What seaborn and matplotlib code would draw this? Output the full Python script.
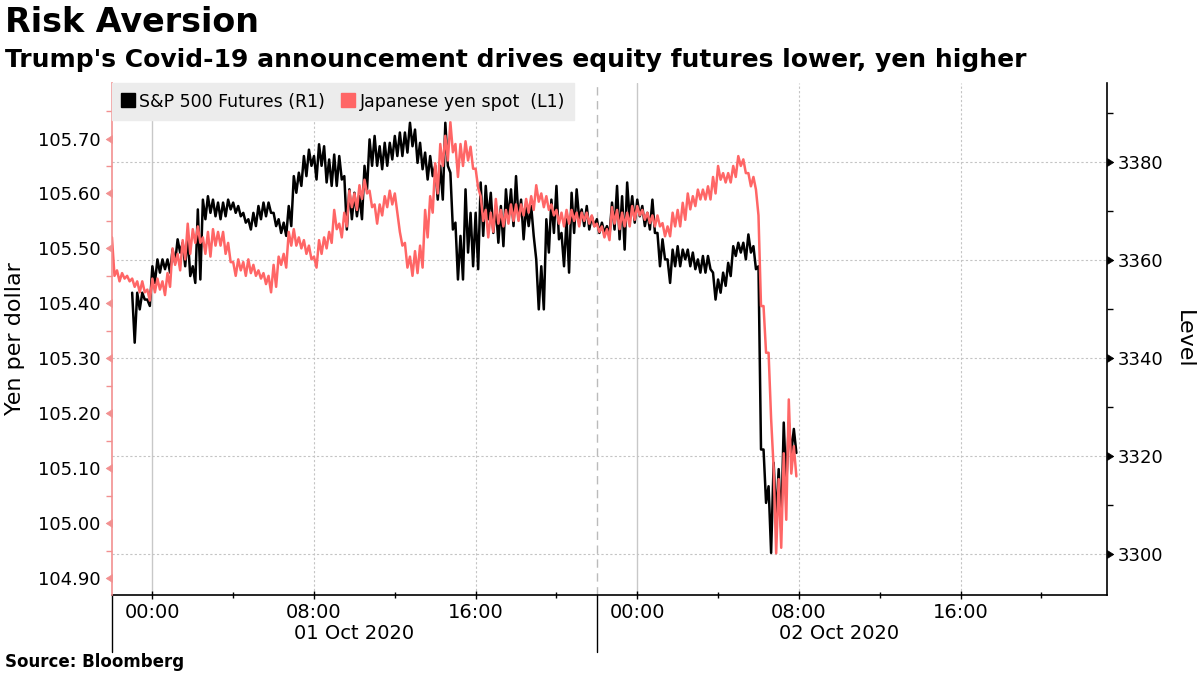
import matplotlib
matplotlib.use("Agg")
import matplotlib.pyplot as plt
import matplotlib.dates as mdates
from matplotlib.lines import Line2D
from matplotlib.path import Path
from matplotlib.ticker import FixedLocator, FormatStrFormatter
import pandas as pd
import seaborn as sns

# Yen spot: 15-minute bins from 30 Sep 22:00, high / low (one row = one hour)
yen_start = "2020-09-30 22:00"
yen_high = [
    105.52, 105.46, 105.455, 105.45,
    105.445, 105.44, 105.44, 105.425,
    105.445, 105.445, 105.44, 105.455,
    105.50, 105.49, 105.515, 105.545,
    105.535, 105.54, 105.52, 105.53,
    105.535, 105.53, 105.53, 105.51,
    105.475, 105.48, 105.475, 105.48,
    105.47, 105.46, 105.455, 105.45,
    105.47, 105.485, 105.49, 105.53,
    105.535, 105.52, 105.515, 105.505,
    105.485, 105.515, 105.52, 105.53,
    105.57, 105.545, 105.565, 105.605,
    105.60, 105.615, 105.625, 105.605,
    105.58, 105.58, 105.595, 105.605,
    105.60, 105.53, 105.51, 105.485,
    105.495, 105.505, 105.57, 105.595,
    105.655, 105.69, 105.705, 105.73,
    105.69, 105.69, 105.695, 105.685,
    105.645, 105.595, 105.57, 105.565,
    105.59, 105.57, 105.57, 105.58,
    105.58, 105.58, 105.59, 105.595,
    105.615, 105.60, 105.595, 105.58,
    105.57, 105.565, 105.57, 105.57,
    105.565, 105.565, 105.565, 105.56,
    105.545, 105.54, 105.535, 105.575,
    105.57, 105.565, 105.565, 105.577,
    105.577, 105.57, 105.565, 105.56,
    105.56, 105.546, 105.54, 105.565,
    105.57, 105.583, 105.60, 105.595,
    105.607, 105.607, 105.613, 105.63,
    105.65, 105.637, 105.637, 105.65,
    105.668, 105.662, 105.637, 105.63,
    105.56, 105.395, 105.31, 105.10,
    105.08, 105.127, 105.225, 105.14,
]
yen_low = [
    105.45, 105.44, 105.445, 105.44,
    105.43, 105.42, 105.42, 105.405,
    105.42, 105.425, 105.415, 105.43,
    105.47, 105.46, 105.48, 105.49,
    105.51, 105.51, 105.49, 105.485,
    105.505, 105.505, 105.49, 105.475,
    105.45, 105.46, 105.45, 105.455,
    105.45, 105.445, 105.435, 105.42,
    105.43, 105.47, 105.465, 105.505,
    105.505, 105.50, 105.49, 105.48,
    105.465, 105.49, 105.50, 105.51,
    105.535, 105.52, 105.54, 105.575,
    105.57, 105.59, 105.60, 105.575,
    105.545, 105.56, 105.575, 105.58,
    105.565, 105.505, 105.465, 105.45,
    105.455, 105.465, 105.52, 105.565,
    105.60, 105.65, 105.66, 105.675,
    105.63, 105.65, 105.66, 105.645,
    105.61, 105.55, 105.52, 105.53,
    105.545, 105.54, 105.545, 105.55,
    105.55, 105.56, 105.565, 105.57,
    105.585, 105.575, 105.57, 105.56,
    105.545, 105.54, 105.545, 105.55,
    105.54, 105.55, 105.545, 105.54,
    105.53, 105.52, 105.515, 105.545,
    105.535, 105.54, 105.54, 105.552,
    105.56, 105.552, 105.546, 105.54,
    105.54, 105.522, 105.522, 105.54,
    105.54, 105.552, 105.571, 105.577,
    105.589, 105.589, 105.589, 105.60,
    105.625, 105.62, 105.62, 105.63,
    105.65, 105.637, 105.613, 105.607,
    105.395, 105.31, 105.19, 104.945,
    104.955, 105.006, 105.09, 105.085,
]

# S&P 500 futures: 15-minute bins from 30 Sep 23:00, high / low
spx_start = "2020-09-30 23:00"
spx_high = [
    3353.4, 3353.4, 3353.4, 3352.0,
    3358.8, 3360.2, 3360.2, 3360.2,
    3362.2, 3364.3, 3363.6, 3365.0,
    3358.8, 3370.4, 3372.4, 3373.1,
    3372.4, 3371.8, 3371.8, 3372.4,
    3371.8, 3371.1, 3369.7, 3368.4,
    3369.7, 3371.1, 3371.8, 3371.8,
    3369.7, 3368.4, 3367.7, 3371.1,
    3377.2, 3377.9, 3381.3, 3382.6,
    3381.3, 3383.7, 3383.3, 3380.6,
    3381.6, 3381.3, 3377.2, 3374.5,
    3373.8, 3373.1, 3379.3, 3384.7,
    3385.4, 3383.3, 3384.0, 3384.0,
    3385.4, 3386.1, 3386.1, 3388.1,
    3386.7, 3384.0, 3382.0, 3381.3,
    3379.3, 3379.3, 3388.1, 3377.9,
    3367.7, 3365.0, 3374.5, 3369.7,
    3369.7, 3375.9, 3375.2, 3373.8,
    3371.1, 3371.1, 3374.5, 3374.5,
    3377.2, 3372.4, 3371.1, 3371.1,
    3360.2, 3358.8, 3368.4, 3372.4,
    3375.2, 3365.6, 3368.4, 3373.8,
    3374.5, 3370.4, 3371.1, 3369.0,
    3368.4, 3367.7, 3367.0, 3371.8,
    3375.2, 3373.1, 3375.9, 3373.1,
    3372.4, 3371.1, 3369.7, 3372.4,
    3365.6, 3364.3, 3360.2, 3362.2,
    3362.9, 3362.2, 3362.2, 3361.6,
    3360.2, 3360.9, 3360.9, 3357.5,
    3356.1, 3357.5, 3359.5, 3362.9,
    3363.6, 3363.6, 3365.3, 3362.9,
    3358.8, 3321.4, 3313.9, 3318.7,
    3317.4, 3326.9, 3326.9, 3325.6,
]
spx_low = [
    3343.2, 3350.0, 3352.0, 3350.7,
    3355.4, 3357.5, 3358.2, 3357.5,
    3359.5, 3361.6, 3358.8, 3356.8,
    3355.4, 3356.1, 3368.4, 3369.7,
    3369.0, 3368.4, 3369.0, 3370.4,
    3369.7, 3369.0, 3367.7, 3366.3,
    3367.0, 3368.4, 3369.0, 3369.7,
    3367.0, 3365.6, 3365.0, 3367.0,
    3373.8, 3375.2, 3377.2, 3379.3,
    3376.5, 3379.3, 3375.9, 3375.2,
    3375.2, 3376.5, 3366.3, 3368.4,
    3369.0, 3368.4, 3374.5, 3379.3,
    3379.3, 3378.6, 3379.3, 3380.6,
    3381.3, 3381.3, 3382.0, 3383.3,
    3379.9, 3378.6, 3376.5, 3377.2,
    3372.4, 3372.4, 3379.3, 3366.3,
    3356.1, 3356.1, 3361.6, 3358.8,
    3358.2, 3365.0, 3368.4, 3365.6,
    3363.6, 3362.9, 3368.4, 3367.0,
    3368.4, 3364.3, 3367.0, 3365.0,
    3350.0, 3350.0, 3361.6, 3365.6,
    3364.3, 3358.8, 3357.5, 3365.6,
    3368.4, 3367.0, 3366.3, 3367.0,
    3365.6, 3365.6, 3365.0, 3366.3,
    3364.3, 3362.2, 3368.4, 3367.7,
    3369.0, 3367.0, 3366.3, 3365.6,
    3358.8, 3360.2, 3355.4, 3358.8,
    3358.8, 3360.2, 3358.8, 3358.2,
    3357.5, 3357.5, 3358.2, 3352.0,
    3353.4, 3354.8, 3356.8, 3360.9,
    3361.6, 3360.2, 3361.6, 3358.2,
    3321.4, 3310.5, 3300.3, 3307.1,
    3305.1, 3313.9, 3320.7, 3320.7,
]

yen_ticks = [104.90, 105.00, 105.10, 105.20, 105.30, 105.40, 105.50, 105.60, 105.70]
yen_minor = [104.95, 105.05, 105.15, 105.25, 105.35, 105.45, 105.55, 105.65, 105.75]
spx_ticks = [3300, 3320, 3340, 3360, 3380]
spx_minor = [3310, 3330, 3350, 3370, 3390]
day_labels = ["01 Oct 2020", "02 Oct 2020"]
day_label_times = ["2020-10-01 10:00", "2020-10-02 10:00"]
session_breaks = ["2020-09-30 22:00", "2020-10-01 22:00"]

PINK = "#FF6666"
PINK_AXIS = "#F29090"


def hi_lo_frame(start, high, low):
    # each 15-min bin drawn as its high then its low -> jagged tick-like trace
    times = pd.date_range(start, periods=len(high), freq="15min")
    xs, ys = [], []
    for t, h, l in zip(times, high, low):
        xs += [t, t + pd.Timedelta(minutes=7.5)]
        ys += [h, l]
    return pd.DataFrame({"time": xs, "value": ys})


yen_df = hi_lo_frame(yen_start, yen_high, yen_low)
spx_df = hi_lo_frame(spx_start, spx_high, spx_low)

sns.set_style("white")
plt.rcParams["font.family"] = ["DejaVu Sans"]
plt.rcParams["text.color"] = "black"
plt.rcParams["axes.labelcolor"] = "black"
plt.rcParams["xtick.color"] = "black"
plt.rcParams["ytick.color"] = "black"

fig = plt.figure(figsize=(12, 6.75), dpi=100)
ax = fig.add_axes([0.0933, 0.1185, 0.8292, 0.7585])   # S&P, right scale
ax2 = ax.twinx()                                       # yen, left scale (drawn on top)
ax.yaxis.tick_right()
ax2.yaxis.tick_left()

sns.lineplot(data=spx_df, x="time", y="value", ax=ax, color="black",
             linewidth=1.8, estimator=None)
sns.lineplot(data=yen_df, x="time", y="value", ax=ax2, color=PINK,
             linewidth=1.8, estimator=None)
for a in (ax, ax2):
    a.set_xlabel("")
    a.set_ylabel("")

ax.set_xlim(pd.Timestamp("2020-09-30 22:00"), pd.Timestamp("2020-10-02 23:15"))
ax.set_ylim(3291.7, 3396.2)
ax2.set_ylim(104.869, 105.801)

ax.set_yticks(spx_ticks)
ax.yaxis.set_minor_locator(FixedLocator(spx_minor))
ax2.set_yticks(yen_ticks)
ax2.yaxis.set_minor_locator(FixedLocator(yen_minor))
ax2.yaxis.set_major_formatter(FormatStrFormatter("%.2f"))

ax.xaxis.set_major_locator(mdates.HourLocator(byhour=[0, 8, 16]))
ax.xaxis.set_minor_locator(mdates.HourLocator(byhour=[4, 12, 20]))
ax.xaxis.set_major_formatter(mdates.DateFormatter("%H:%M"))

# grid: horizontal from the right scale, verticals by hand
ax.set_axisbelow(True)
ax.yaxis.grid(True, color="#c4c4c4", linestyle=(0, (2, 2)), linewidth=0.8)
ax.xaxis.grid(False)
ax2.grid(False)
for ts in ["2020-10-01 08:00", "2020-10-01 16:00", "2020-10-02 08:00", "2020-10-02 16:00"]:
    ax.axvline(pd.Timestamp(ts), color="#c4c4c4", linestyle=(0, (2, 2)), linewidth=0.8, zorder=0)
for ts in ["2020-10-01 00:00", "2020-10-02 00:00"]:
    ax.axvline(pd.Timestamp(ts), color="#c8c8c8", linewidth=1.0, zorder=0)
ax.axvline(pd.Timestamp(session_breaks[1]), color="#bbbbbb", linestyle=(0, (6, 4)),
           linewidth=1.0, zorder=0)
# day separators below the axis
for ts in session_breaks:
    ax.axvline(pd.Timestamp(ts), ymin=-0.112, ymax=0, clip_on=False, color="black", linewidth=1.0)

# spines
for s in ("top", "left"):
    ax.spines[s].set_visible(False)
for s in ("top", "right", "bottom"):
    ax2.spines[s].set_visible(False)
ax.spines["right"].set_color("black")
ax.spines["bottom"].set_color("black")
ax.spines["right"].set_linewidth(1.2)
ax.spines["bottom"].set_linewidth(1.2)
ax2.spines["left"].set_color(PINK_AXIS)
ax2.spines["left"].set_linewidth(1.2)

ax.tick_params(axis="y", which="major", left=False, right=True, length=6, width=1,
               pad=2, labelsize=13, color="black", labelcolor="black")
ax.tick_params(axis="y", which="minor", left=False, right=True, length=4, width=1, color="black")
ax2.tick_params(axis="y", which="major", left=True, right=False, length=6, width=1,
                pad=2, labelsize=13, color=PINK_AXIS, labelcolor="black")
ax2.tick_params(axis="y", which="minor", left=True, right=False, length=4, width=1, color=PINK_AXIS)
ax.tick_params(axis="x", which="major", bottom=True, direction="inout", length=6, width=1,
               labelsize=14, pad=3, color="black", labelcolor="black")
ax.tick_params(axis="x", which="minor", bottom=True, direction="inout", length=5, width=1, color="black")

# triangular tick marks on both value axes
tri_right = Path([(0, -1), (0, 1), (1.6, 0), (0, -1)],
                 [Path.MOVETO, Path.LINETO, Path.LINETO, Path.CLOSEPOLY])
tri_left = Path([(0, -1), (0, 1), (-1.6, 0), (0, -1)],
                [Path.MOVETO, Path.LINETO, Path.LINETO, Path.CLOSEPOLY])
for tk in ax.yaxis.get_major_ticks():
    tk.tick2line.set_marker(tri_right)
    tk.tick2line.set_markersize(9)
    tk.tick2line.set_markeredgewidth(0.5)
for tk in ax2.yaxis.get_major_ticks():
    tk.tick1line.set_marker(tri_left)
    tk.tick1line.set_markersize(9)
    tk.tick1line.set_markeredgewidth(0.5)

# date labels under the hour labels
trans = ax.get_xaxis_transform()
for lab, ts in zip(day_labels, day_label_times):
    ax.text(mdates.date2num(pd.Timestamp(ts)), -0.076, lab, transform=trans,
            ha="center", va="center", fontsize=14, color="black")

# legend
handles = [Line2D([], [], marker="s", linestyle="none", color="black", markersize=10),
           Line2D([], [], marker="s", linestyle="none", color=PINK, markersize=10)]
ax2.legend(handles, ["S&P 500 Futures (R1)", "Japanese yen spot  (L1)"],
           loc="upper left", bbox_to_anchor=(0, 1), borderaxespad=0, ncol=2,
           frameon=True, fancybox=False, facecolor="#ececec", edgecolor="#ececec",
           framealpha=1, fontsize=12.5, handlelength=0.7, handletextpad=0.3,
           columnspacing=1.0, borderpad=0.55, labelcolor="black")

# titles and labels
fig.text(0.004, 0.967, "Risk Aversion", fontsize=24, fontweight="bold", va="center", ha="left")
fig.text(0.004, 0.911, "Trump's Covid-19 announcement drives equity futures lower, yen higher",
         fontsize=18, fontweight="bold", va="center", ha="left")
fig.text(15 / 1200, 1 - 339 / 675, "Yen per dollar", rotation=90, fontsize=16,
         ha="center", va="center")
fig.text(1184 / 1200, 1 - 339 / 675, "Level", rotation=270, fontsize=16,
         ha="center", va="center")
fig.text(0.004, 0.019, "Source: Bloomberg", fontsize=12, fontweight="bold", va="center", ha="left")

fig.savefig("out.png", dpi=100)
